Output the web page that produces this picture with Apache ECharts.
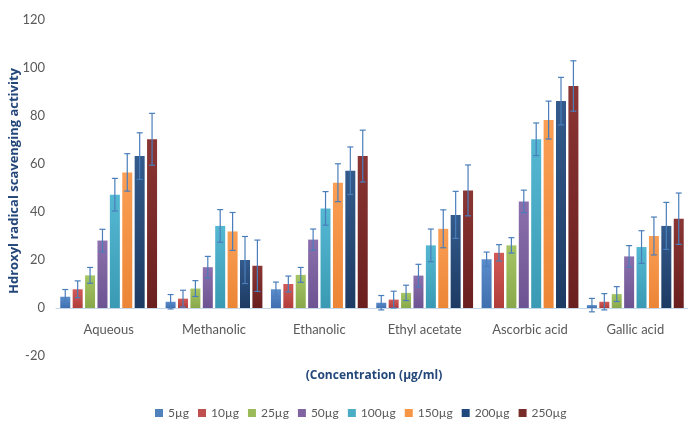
<!DOCTYPE html>
<html>
<head>
<meta charset="utf-8">
<script src="https://cdn.jsdelivr.net/npm/echarts@6/dist/echarts.min.js"></script>
<style>
  html, body { margin: 0; padding: 0; background: #ffffff; }
  #chart { width: 688px; height: 426px; }
</style>
</head>
<body>
<div id="chart"></div>
<script>
// Extract groups on the category axis
const categories = ['Aqueous', 'Methanolic', 'Ethanolic', 'Ethyl acetate', 'Ascorbic acid', 'Gallic acid'];

// Concentration series names
const seriesNames = ['5µg', '10µg', '25µg', '50µg', '100µg', '150µg', '200µg', '250µg'];

// Mean scavenging activity per concentration (one value per extract)
const v5   = [4.7, 2.6, 7.8, 2.2, 20.3, 1.2];
const v10  = [7.8, 3.9, 10.0, 3.5, 23.0, 2.6];
const v25  = [13.6, 8.1, 13.8, 6.3, 26.1, 5.8];
const v50  = [28.1, 17.0, 28.5, 13.5, 44.4, 21.5];
const v100 = [47.2, 34.2, 41.5, 26.1, 70.3, 25.4];
const v150 = [56.5, 31.9, 52.2, 33.0, 78.3, 30.0];
const v200 = [63.3, 20.0, 57.2, 38.8, 86.2, 34.2];
const v250 = [70.3, 17.6, 63.3, 49.0, 92.5, 37.2];

// Standard deviations per concentration
const e5   = [3.0, 3.0, 3.0, 3.0, 3.0, 2.8];
const e10  = [3.5, 3.5, 3.3, 3.5, 3.4, 3.4];
const e25  = [3.3, 3.3, 3.1, 3.2, 3.2, 3.1];
const e50  = [4.7, 4.5, 4.4, 4.7, 4.7, 4.5];
const e100 = [6.8, 6.8, 7.0, 6.8, 6.8, 6.8];
const e150 = [7.8, 7.9, 7.9, 7.9, 7.9, 7.9];
const e200 = [9.7, 9.8, 9.9, 9.8, 9.9, 9.8];
const e250 = [10.8, 10.7, 10.8, 10.6, 10.5, 10.7];

// Y axis range and step
const yMin = -20, yMax = 120, yStep = 20;

const values = [v5, v10, v25, v50, v100, v150, v200, v250];
const errors = [e5, e10, e25, e50, e100, e150, e200, e250];

// Office-style palette: [top shade, bottom shade]
const palette = [
  ['#5b8ccb', '#3f6fae'],
  ['#d25a57', '#b03e3b'],
  ['#a6c565', '#88a84a'],
  ['#8b70ad', '#6e5392'],
  ['#55b8d2', '#3a9ab4'],
  ['#fa9f55', '#ec8536'],
  ['#335b8c', '#1d3a63'],
  ['#8a3634', '#6a1f1e']
];
const legendColors = ['#4f81bd', '#c0504d', '#9bbb59', '#8064a2', '#4bacc6', '#f79646', '#1f497d', '#772c2a'];

const GRID_TOP = 20, GRID_H = 336;
const BAR_W = 10;
const BAR_GAP = 0.24;
const slot = BAR_W * (1 + BAR_GAP);
const n = seriesNames.length;

// Distance from the grid bottom up to the zero line, so the category axis sits on y = 0
const zeroLift = GRID_H * (0 - yMin) / (yMax - yMin);

const series = [];
seriesNames.forEach(function (name, i) {
  series.push({
    name: name,
    type: 'bar',
    barWidth: BAR_W,
    barGap: (BAR_GAP * 100) + '%',
    itemStyle: {
      color: {
        type: 'linear', x: 0, y: 0, x2: 0, y2: 1,
        colorStops: [
          { offset: 0, color: palette[i][0] },
          { offset: 1, color: palette[i][1] }
        ]
      }
    },
    data: values[i]
  });
});

// Error bars drawn on top of the matching bar
seriesNames.forEach(function (name, i) {
  const offset = (i - (n - 1) / 2) * slot;
  series.push({
    type: 'custom',
    name: name + ' sd',
    z: 5,
    silent: true,
    renderItem: function (params, api) {
      const c = api.value(0);
      const v = api.value(1);
      const e = api.value(2);
      const top = api.coord([c, v + e]);
      const bot = api.coord([c, v - e]);
      const x = top[0] + offset;
      const cap = 3;
      const style = { stroke: '#4a7ebb', lineWidth: 1.2 };
      return {
        type: 'group',
        children: [
          { type: 'line', shape: { x1: x, y1: top[1], x2: x, y2: bot[1] }, style: style },
          { type: 'line', shape: { x1: x - cap, y1: top[1], x2: x + cap, y2: top[1] }, style: style },
          { type: 'line', shape: { x1: x - cap, y1: bot[1], x2: x + cap, y2: bot[1] }, style: style }
        ]
      };
    },
    data: values[i].map(function (v, k) { return [k, v, errors[i][k]]; })
  });
});

const chart = echarts.init(document.getElementById('chart'), null, { renderer: 'canvas' });
chart.setOption({
  animation: false,
  backgroundColor: '#ffffff',
  color: legendColors,
  grid: { left: 56, top: GRID_TOP, width: 637, height: GRID_H },
  legend: {
    data: seriesNames.map(function (s, i) {
      return { name: s, itemStyle: { color: legendColors[i] } };
    }),
    left: 150,
    top: 402,
    icon: 'rect',
    itemWidth: 8,
    itemHeight: 8,
    itemGap: 9,
    textStyle: { color: '#595959', fontSize: 12, fontFamily: 'Lato' }
  },
  xAxis: {
    type: 'category',
    data: categories,
    offset: -zeroLift,
    axisLine: { onZero: false, lineStyle: { color: '#c6d6ea', width: 1 } },
    axisTick: { show: false },
    axisLabel: { color: '#595959', fontSize: 13, fontFamily: 'Lato', margin: 15 }
  },
  yAxis: {
    type: 'value',
    min: yMin,
    max: yMax,
    interval: yStep,
    axisLine: { show: false },
    axisTick: { show: false },
    splitLine: { show: false },
    axisLabel: { color: '#595959', fontSize: 13, fontFamily: 'Lato', margin: 11 }
  },
  graphic: [
    {
      type: 'text',
      x: 14, y: 181,
      rotation: Math.PI / 2,
      style: {
        text: 'Hdroxyl radical scavenging activity',
        fill: '#24477a',
        font: 'bold 13px "Open Sans"',
        textAlign: 'center',
        textVerticalAlign: 'middle'
      }
    },
    {
      type: 'text',
      x: 374, y: 376,
      style: {
        text: '(Concentration (µg/ml)',
        fill: '#24477a',
        font: 'bold 12px "Open Sans"',
        textAlign: 'center',
        textVerticalAlign: 'middle'
      }
    }
  ],
  series: series
});
</script>
</body>
</html>
